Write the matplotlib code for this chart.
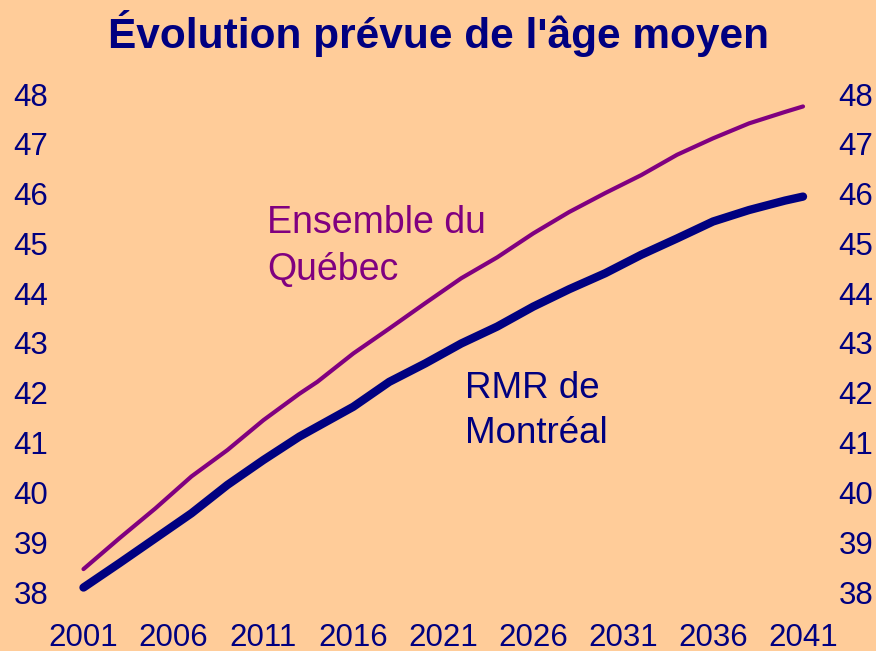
import matplotlib
matplotlib.use('Agg')
import matplotlib.pyplot as plt

plt.rcParams['font.family'] = 'Liberation Sans'

# values
years = [2001, 2003, 2005, 2007, 2009, 2011, 2013, 2014, 2016, 2018, 2020,
         2022, 2024, 2026, 2028, 2030, 2032, 2034, 2036, 2038, 2040, 2041]
quebec = [38.46, 39.08, 39.68, 40.32, 40.85, 41.45, 41.98, 42.22, 42.79, 43.29, 43.80,
          44.30, 44.72, 45.20, 45.63, 46.01, 46.37, 46.78, 47.11, 47.41, 47.64, 47.75]
montreal = [38.09, 38.58, 39.08, 39.58, 40.15, 40.65, 41.12, 41.32, 41.72, 42.22, 42.59,
            42.99, 43.33, 43.73, 44.08, 44.40, 44.77, 45.10, 45.44, 45.67, 45.86, 45.94]
xticks = [2001, 2006, 2011, 2016, 2021, 2026, 2031, 2036, 2041]
yticks = [38, 39, 40, 41, 42, 43, 44, 45, 46, 47, 48]

bg = '#FFCC99'
navy = '#000080'
purple = '#800080'

W, H = 876, 651
fig = plt.figure(figsize=(W / 100, H / 100), dpi=100, facecolor=bg)
ax = fig.add_axes([83.5 / W, 59 / H, (803 - 83.5) / W, (592 - 94) / H])
ax.set_facecolor(bg)

ax.plot(years, quebec, color=purple, lw=3, solid_capstyle='round', clip_on=False)
ax.plot(years, montreal, color=navy, lw=6, solid_capstyle='round', clip_on=False)

ax.set_xlim(2001, 2041)
ax.set_ylim(38, 48)
ax.set_xticks(xticks)
ax.set_yticks(yticks)
ax.tick_params(axis='both', length=0, labelsize=22.5, labelcolor=navy)
ax.tick_params(axis='x', pad=22)
ax.tick_params(axis='y', pad=25.5, labelright=True)
for s in ax.spines.values():
    s.set_visible(False)

# va='baseline' anchors the last line here
ax.text(2011.2, 44.27, 'Ensemble du\nQuébec', color=purple, fontsize=27,
        ha='left', va='baseline', linespacing=1.37)
ax.text(2022.2, 40.99, 'RMR de\nMontréal', color=navy, fontsize=26.5,
        ha='left', va='baseline', linespacing=1.39)

fig.text(0.5, 1 - 48.3 / H, "Évolution prévue de l'âge moyen", color=navy,
         fontsize=30.5, fontweight='bold', ha='center', va='baseline')

fig.savefig('out.png', dpi=100, facecolor=bg)
